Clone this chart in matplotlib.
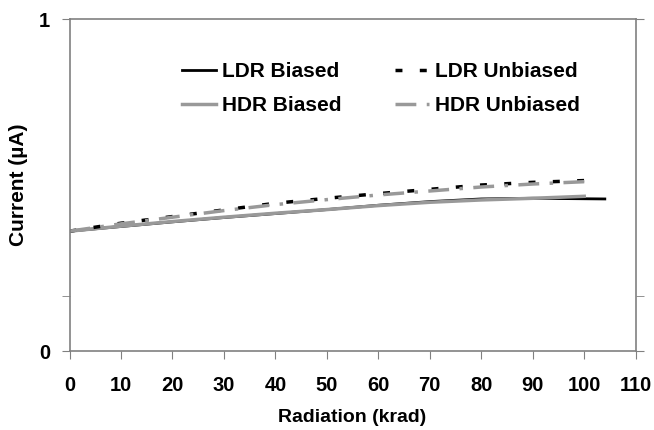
import numpy as np
import matplotlib.pyplot as plt

# Valors llegits del gràfic (radiació en krad, corrent en uA)
x_ldr_b = [0, 10, 20, 30, 40, 50, 60, 70, 80, 90, 104]
y_ldr_b = [0.361, 0.375, 0.389, 0.402, 0.414, 0.426, 0.439, 0.450, 0.458, 0.460, 0.458]

x_hdr_b = [0, 10, 20, 30, 40, 50, 60, 70, 80, 90, 100]
y_hdr_b = [0.361, 0.376, 0.390, 0.403, 0.415, 0.426, 0.438, 0.448, 0.455, 0.460, 0.466]

x_ldr_u = [0, 10, 20, 30, 40, 50, 60, 70, 80, 90, 103]
y_ldr_u = [0.361, 0.385, 0.405, 0.425, 0.445, 0.460, 0.474, 0.487, 0.500, 0.508, 0.515]

x_hdr_u = [0, 10, 20, 30, 40, 50, 60, 70, 80, 90, 100]
y_hdr_u = [0.361, 0.383, 0.403, 0.423, 0.441, 0.456, 0.470, 0.482, 0.494, 0.503, 0.510]

xticks = np.arange(0, 111, 10)

plt.rcParams['font.family'] = ['Liberation Sans', 'DejaVu Sans']
plt.rcParams['font.weight'] = 'bold'

fig = plt.figure(figsize=(6.54, 4.30), dpi=100, facecolor='white')
ax = fig.add_axes([0.1063, 0.1837, 0.8657, 0.7721])

ax.plot(x_ldr_b, y_ldr_b, color='black', lw=2, label='LDR Biased')
ax.plot(x_hdr_b, y_hdr_b, color='#999999', lw=2.5, label='HDR Biased')
ax.plot(x_ldr_u, y_ldr_u, color='black', lw=2.5, dashes=(2, 5), label='LDR Unbiased')
ax.plot(x_hdr_u, y_hdr_u, color='#999999', lw=2.5, dashes=(6, 3, 1, 3), label='HDR Unbiased')

ax.set_xlim(0, 110)
ax.set_ylim(0, 1)
ax.set_xticks(xticks)
ax.set_yticks([0, 1])
ax.set_yticks([1 / 6], minor=True)

for s in ax.spines.values():
    s.set_color('#808080')
    s.set_linewidth(1.2)

ax.tick_params(axis='both', which='both', direction='out', color='#808080', length=6,
               labelsize=14.5)
ax.tick_params(axis='x', pad=12)
ax.tick_params(axis='y', which='both', right=True, pad=8)

ax.set_xlabel('Radiation (krad)', fontsize=14, fontweight='bold', labelpad=10)
ax.set_ylabel('Current (µA)', fontsize=15, fontweight='bold', labelpad=8)

ax.legend(loc='upper left', bbox_to_anchor=(0.199, 0.87), ncol=2, frameon=False,
          fontsize=15, borderpad=0, borderaxespad=0, handlelength=1.6,
          handletextpad=0.3, columnspacing=2.6, labelspacing=0.72)

fig.savefig('out.png', dpi=100)
